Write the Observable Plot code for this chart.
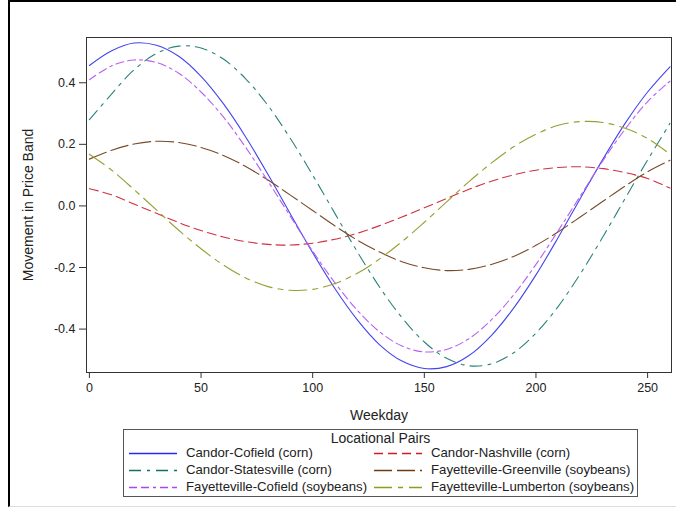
<!DOCTYPE html>
<html>
<head>
<meta charset="utf-8">
<script src="https://cdn.jsdelivr.net/npm/d3@7"></script>
<script src="https://cdn.jsdelivr.net/npm/@observablehq/plot@0.6"></script>
<style>
  body { margin: 0; background: #fff; font-family: "Liberation Sans", Arial, sans-serif; }
  #wrap { position: relative; width: 676px; height: 508px; overflow: hidden; }
  #border { position: absolute; left: 8px; top: 0px; width: 668px; height: 507px;
    border-left: 2px solid #000; border-top: 2px solid #000; border-bottom: 1px solid #ddd; box-sizing: border-box; }
  #chart { position: absolute; left: 0; top: 0; }
  #legend { position: absolute; left: 123px; top: 429px; width: 515px; height: 68px;
    border: 1px solid #555; box-sizing: border-box; font-size: 13.2px; color: #222; }
  #legend .title { position: absolute; left: 0; right: 0; top: 0px; line-height: 16px; text-align: center; font-size: 14px; }
  #legend .item { position: absolute; height: 16px; line-height: 16px; white-space: nowrap; }
  #legend .item svg { position: absolute; left: 0; top: 0; }
  #legend .item span { position: absolute; left: 58px; top: 0; }
</style>
</head>
<body>
<div id="wrap">
  <div id="border"></div>
  <div id="chart"></div>
  <div id="legend"><div class="title">Locational Pairs</div></div>
</div>
<script>
const weekdays = [0,10,20,30,40,50,60,70,80,90,100,110,120,130,140,150,160,170,180,190,200,210,220,230,240,250,260];
const candorCofield = [0.456,0.504,0.529,0.522,0.486,0.421,0.332,0.224,0.102,-0.026,-0.152,-0.269,-0.370,-0.451,-0.504,-0.528,-0.522,-0.486,-0.421,-0.332,-0.224,-0.102,0.026,0.152,0.269,0.370,0.452];
const candorNashville = [0.056,0.036,0.006,-0.024,-0.054,-0.080,-0.101,-0.116,-0.125,-0.127,-0.121,-0.108,-0.089,-0.064,-0.036,-0.006,0.024,0.054,0.080,0.101,0.116,0.125,0.127,0.121,0.108,0.089,0.058];
const candorStatesville = [0.280,0.364,0.442,0.495,0.519,0.513,0.477,0.413,0.326,0.219,0.100,-0.025,-0.149,-0.264,-0.363,-0.442,-0.495,-0.519,-0.513,-0.477,-0.413,-0.326,-0.219,-0.100,0.025,0.149,0.268];
const fayGreenville = [0.152,0.181,0.201,0.210,0.206,0.190,0.164,0.128,0.084,0.035,-0.015,-0.065,-0.111,-0.150,-0.181,-0.201,-0.210,-0.206,-0.190,-0.164,-0.128,-0.084,-0.035,0.015,0.065,0.111,0.148];
const fayCofield = [0.410,0.455,0.474,0.466,0.431,0.370,0.289,0.190,0.080,-0.034,-0.147,-0.250,-0.339,-0.409,-0.455,-0.474,-0.466,-0.431,-0.370,-0.289,-0.190,-0.080,0.034,0.147,0.250,0.339,0.405];
const fayLumberton = [0.168,0.116,0.053,-0.013,-0.079,-0.139,-0.192,-0.234,-0.262,-0.274,-0.271,-0.252,-0.219,-0.172,-0.116,-0.053,0.013,0.079,0.139,0.192,0.233,0.262,0.274,0.271,0.252,0.219,0.168];

const xTicks = [0,50,100,150,200,250];
const yTicks = [-0.4,-0.2,0.0,0.2,0.4];

const series = [
  {name: "Candor-Cofield (corn)", values: candorCofield, color: "#4444ee", legendColor: "#2828f0", dash: null},
  {name: "Candor-Nashville (corn)", values: candorNashville, color: "#d03040", legendColor: "#d81828", dash: "9,5"},
  {name: "Candor-Statesville (corn)", values: candorStatesville, color: "#2a837b", legendColor: "#107068", dash: "12,6,3,6"},
  {name: "Fayetteville-Greenville (soybeans)", values: fayGreenville, color: "#784a28", legendColor: "#703c14", dash: "18,5"},
  {name: "Fayetteville-Cofield (soybeans)", values: fayCofield, color: "#b860f0", legendColor: "#a848f4", dash: "8,4,8,4,3,4"},
  {name: "Fayetteville-Lumberton (soybeans)", values: fayLumberton, color: "#96a032", legendColor: "#8c9e20", dash: "18,6,5,6"}
];

const rows = [];
series.forEach(s => s.values.forEach((v, i) => rows.push({series: s.name, x: weekdays[i], y: v})));

const lineMarks = series.map(s => Plot.line(rows.filter(r => r.series === s.name), {
  x: "x", y: "y", stroke: s.color, strokeWidth: 1.1, strokeDasharray: s.dash, curve: "catmull-rom"
}));

const chart = Plot.plot({
  width: 676, height: 425,
  marginLeft: 86, marginRight: 5, marginTop: 37, marginBottom: 53,
  style: {fontFamily: "Liberation Sans, Arial, sans-serif", fontSize: "12px", color: "#222", background: "transparent"},
  x: {domain: [-1.3, 260.7]},
  y: {domain: [-0.541, 0.547]},
  marks: [
    ...lineMarks,
    Plot.frame({stroke: "#333"}),
    Plot.axisX({ticks: xTicks, tickSize: 6, tickPadding: 5, label: null, fontSize: 12.5, stroke: "#333"}),
    Plot.axisY({ticks: yTicks, tickFormat: d => d.toFixed(1), tickSize: 7, tickPadding: 4, label: null, fontSize: 12.5, stroke: "#333"}),
    Plot.axisX({ticks: [], tickSize: 0, label: "Weekday", labelAnchor: "center", labelArrow: "none", labelOffset: 47, fontSize: 14}),
    Plot.axisY({ticks: [], tickSize: 0, label: "Movement in Price Band", labelAnchor: "center", labelArrow: "none", labelOffset: 63, fontSize: 14})
  ]
});
document.getElementById("chart").appendChild(chart);

// legend
const legend = document.getElementById("legend");
const pos = [[4,16],[249,16],[4,33],[249,33],[4,50],[249,50]];
series.forEach((s, i) => {
  const div = document.createElement("div");
  div.className = "item";
  div.style.left = pos[i][0] + "px";
  div.style.top = (pos[i][1] - 1) + "px";
  div.innerHTML = `<svg width="50" height="16"><line x1="1" x2="49" y1="8.5" y2="8.5" stroke="${s.legendColor}" stroke-width="1.3" ${s.dash ? `stroke-dasharray="${s.dash}"` : ""}/></svg><span>${s.name}</span>`;
  legend.appendChild(div);
});
</script>
</body>
</html>
